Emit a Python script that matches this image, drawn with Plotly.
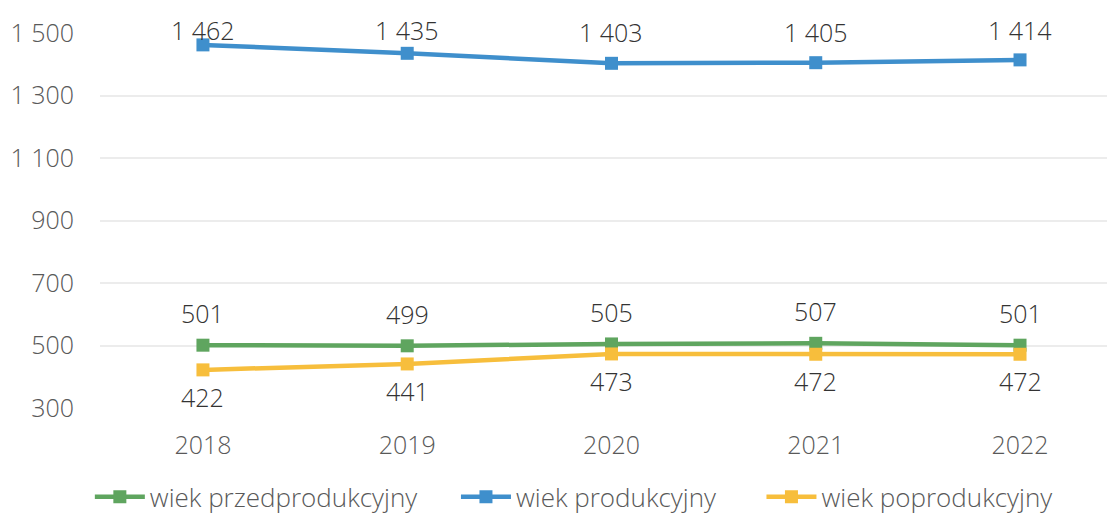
import plotly.graph_objects as go

years = ["2018", "2019", "2020", "2021", "2022"]
przed = [501, 499, 505, 507, 501]
prod = [1462, 1435, 1403, 1405, 1414]
poprod = [422, 441, 473, 472, 472]
y_ticks = [300, 500, 700, 900, 1100, 1300, 1500]

GREEN = "#5fa55f"
BLUE = "#3f8fcc"
YELLOW = "#f7be3c"
FONT = "Open Sans"
# page body has an 8px margin, so the figure is 8px smaller than the window
W, H = 1107, 507
ML, MR, MT, MB = 92, 0, 25, 107
Y0, Y1 = 300, 1500
px_per_unit = (H - MT - MB) / (Y1 - Y0)
NBSP = "\u00a0"

def fmt(v):
    return f"{v:,}".replace(",", " ")

fig = go.Figure()
series = [
    ("wiek przedprodukcyjny" + NBSP * 5, przed, GREEN, 32),
    ("wiek produkcyjny" + NBSP * 6, prod, BLUE, 31),
    ("wiek poprodukcyjny", poprod, YELLOW, -27),
]
for name, vals, color, shift in series:
    fig.add_trace(go.Scatter(
        x=years, y=vals, name=name, mode="lines+markers",
        line=dict(color=color, width=4.5),
        marker=dict(symbol="square", size=13, color=color),
        cliponaxis=False,
    ))
    for i, v in enumerate(vals):
        point_px = MT + (Y1 - v) * px_per_unit
        s = shift if shift < 0 else min(shift, point_px - 22)
        fig.add_annotation(x=i, y=v, xref="x", yref="y", text=fmt(v),
                           showarrow=False, yshift=s,
                           font=dict(family=FONT, size=25, color="#333333", weight=300))

fig.update_layout(
    width=W, height=H,
    margin=dict(l=ML, r=MR, t=MT, b=MB, autoexpand=False),
    paper_bgcolor="white", plot_bgcolor="white",
    separators=", ",
    font=dict(family=FONT, size=25, color="#595959", weight=300),
    showlegend=True,
    legend=dict(orientation="h", x=-0.01, xanchor="left", y=-0.237, yanchor="middle",
                font=dict(family=FONT, size=26, color="#595959", weight=300),
                itemwidth=50, tracegroupgap=0),
    xaxis=dict(type="category", range=[-0.504, 4.465], showgrid=False, zeroline=False,
               showline=False, ticks="outside", ticklen=15, tickcolor="rgba(0,0,0,0)",
               automargin=False,
               tickfont=dict(family=FONT, size=25, color="#595959", weight=300)),
    yaxis=dict(range=[Y0, Y1], tickvals=y_ticks, showgrid=True, gridcolor="#ececec",
               gridwidth=1.5, zeroline=False, showline=False, ticks="outside", ticklen=20,
               tickcolor="rgba(0,0,0,0)", tickformat=",d", automargin=False,
               tickfont=dict(family=FONT, size=25, color="#595959", weight=300)),
)

fig.write_html("out.html")
